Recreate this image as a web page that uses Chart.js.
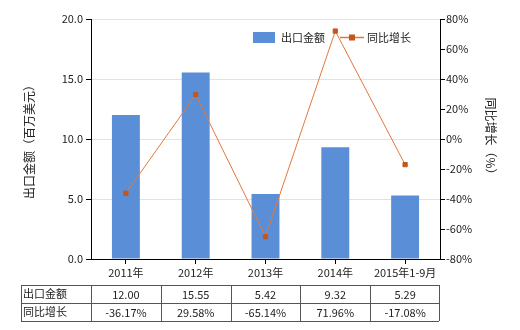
<!DOCTYPE html>
<html>
<head>
<meta charset="utf-8">
<script src="https://cdn.jsdelivr.net/npm/chart.js@4.4.0/dist/chart.umd.min.js"></script>
<style>
  body { margin: 0; background: #fff; }
  #wrap { width: 520px; height: 330px; }
</style>
</head>
<body>
<div id="wrap"><canvas id="chart" width="520" height="330"></canvas></div>
<script>
// data
const categories = ['2011年', '2012年', '2013年', '2014年', '2015年1-9月'];
const exportValues = [12.00, 15.55, 5.42, 9.32, 5.29];
const growthValues = [-36.17, 29.58, -65.14, 71.96, -17.08];
const exportLabels = ['12.00', '15.55', '5.42', '9.32', '5.29'];
const growthLabels = ['-36.17%', '29.58%', '-65.14%', '71.96%', '-17.08%'];
const seriesNames = ['出口金额', '同比增长'];

const FONT = '"Noto Sans CJK SC", "Noto Sans", sans-serif';
const TEXT = '#222';
const BAR = '#5A8ED6';
const LINE = '#E2783A';
const MARK = '#C4561C';

// legend + data table drawn on the canvas
const extras = {
    id: 'extras',
    afterDraw(chart) {
        const ctx = chart.ctx;
        const x = chart.scales.x;
        ctx.save();
        ctx.font = '11px ' + FONT;
        ctx.fillStyle = TEXT;
        ctx.textBaseline = 'middle';

        // legend
        ctx.fillStyle = BAR;
        ctx.fillRect(253, 32, 22, 11);
        ctx.fillStyle = TEXT;
        ctx.textAlign = 'left';
        ctx.fillText(seriesNames[0], 281, 38);
        ctx.strokeStyle = LINE;
        ctx.lineWidth = 1.5;
        ctx.beginPath(); ctx.moveTo(340, 37.5); ctx.lineTo(364, 37.5); ctx.stroke();
        ctx.fillStyle = MARK;
        ctx.fillRect(349, 34.5, 6, 6);
        ctx.fillStyle = TEXT;
        ctx.fillText(seriesNames[1], 367, 38);

        // table
        const band = (x.right - x.left) / categories.length;
        const top = 285, rowH = 18, left = 21;
        ctx.strokeStyle = '#555';
        ctx.lineWidth = 1;
        ctx.beginPath();
        for (let r = 0; r <= 2; r++) {
            ctx.moveTo(left, top + r * rowH + 0.5);
            ctx.lineTo(x.right - 1, top + r * rowH + 0.5);
        }
        ctx.moveTo(left + 0.5, top); ctx.lineTo(left + 0.5, top + 2 * rowH);
        for (let i = 0; i <= categories.length; i++) {
            const px = Math.round(x.left + i * band - (i === categories.length ? 1 : 0)) + 0.5;
            ctx.moveTo(px, top); ctx.lineTo(px, top + 2 * rowH);
        }
        ctx.stroke();

        ctx.textAlign = 'left';
        ctx.fillText(seriesNames[0], left + 2, top + rowH / 2);
        ctx.fillText(seriesNames[1], left + 2, top + rowH * 1.5);
        ctx.textAlign = 'center';
        categories.forEach((c, i) => {
            const cx = x.getPixelForValue(i);
            ctx.fillText(exportLabels[i], cx, top + rowH / 2 + 1);
            ctx.fillText(growthLabels[i], cx, top + rowH * 1.5 + 1);
        });
        ctx.restore();
    }
};

const ctx = document.getElementById('chart').getContext('2d');
new Chart(ctx, {
    data: {
        labels: categories,
        datasets: [{
            type: 'line',
            label: seriesNames[1],
            data: growthValues,
            yAxisID: 'y1',
            borderColor: LINE,
            borderWidth: 1,
            pointStyle: 'rect',
            pointRadius: 3,
            pointBackgroundColor: MARK,
            pointBorderColor: MARK,
            tension: 0,
            order: 0
        }, {
            type: 'bar',
            label: seriesNames[0],
            data: exportValues,
            yAxisID: 'y',
            backgroundColor: BAR,
            barPercentage: 0.4,
            categoryPercentage: 1,
            order: 1
        }]
    },
    options: {
        responsive: false,
        animation: false,
        layout: { padding: { left: 0, right: 0, top: 19, bottom: 45 } },
        plugins: { legend: { display: false }, tooltip: { enabled: false } },
        scales: {
            x: {
                offset: true,
                grid: { drawOnChartArea: false, offset: false, tickLength: 5, tickColor: '#000' },
                border: { color: '#000' },
                ticks: { color: TEXT, font: { family: FONT, size: 11 }, padding: 2, maxRotation: 0 },
                afterFit(s) { s.height = 26; }
            },
            y: {
                position: 'left',
                min: 0, max: 20,
                ticks: { stepSize: 5, color: TEXT, font: { family: FONT, size: 11 }, padding: 3,
                    callback: v => v.toFixed(1) },
                grid: { color: '#e2e2e2', tickLength: 5, tickColor: '#000' },
                border: { color: '#000' },
                title: { display: true, text: '出口金额（百万美元）', color: TEXT,
                    font: { family: FONT, size: 12 }, padding: { top: 22, bottom: 0 } },
                afterFit(s) { s.width = 91; }
            },
            y1: {
                position: 'right',
                min: -80, max: 80,
                ticks: { stepSize: 20, color: TEXT, font: { family: FONT, size: 11 }, padding: 1,
                    callback: v => v + '%' },
                grid: { drawOnChartArea: false, tickLength: 5, tickColor: '#000' },
                border: { color: '#000' },
                title: { display: true, text: '同比增长（%）', color: TEXT,
                    font: { family: FONT, size: 12 }, padding: { top: 22, bottom: 0 } },
                afterFit(s) { s.width = 80; }
            }
        }
    },
    plugins: [extras]
});
</script>
</body>
</html>
